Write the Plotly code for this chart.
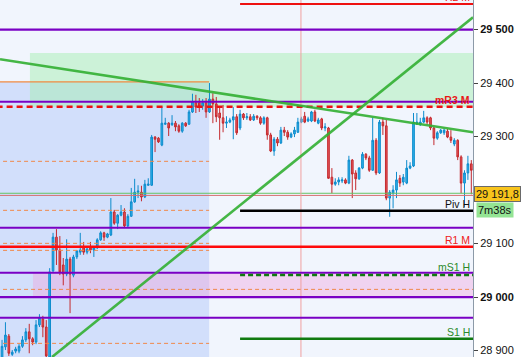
import plotly.graph_objects as go

# ---------------- data (price values) ----------------
open_ = [28882,28907,28927,28893,28899,28899,28908,28920,28935,28922,
         28916,28948,28959,28944,28888,29049,29112,29088,29060,29043,
         29071,29041,29075,29084,29092,29084,29092,29088,29092,29107,
         29120,29112,29116,29159,29138,29153,29159,29133,29151,29178,
         29196,29196,29187,29209,29209,29299,29297,29284,29323,29325,
         29322,29325,29320,29310,29325,29323,29346,29363,29363,29357,
         29363,29346,29370,29361,29344,29335,29325,29327,29331,29337,
         29316,29342,29335,29337,29331,29338,29335,29325,29335,29303,
         29273,29295,29288,29312,29308,29299,29305,29308,29327,29338,
         29329,29329,29346,29325,29333,29316,29316,29224,29211,29215,
         29217,29219,29213,29256,29232,29221,29241,29267,29260,29237,
         29293,29232,29327,29320,29185,29194,29200,29222,29215,29213,
         29241,29245,29323,29322,29327,29335,29335,29316,29297,29307,
         29307,29310,29299,29286,29293,29262,29213,29232,29249]
high = [28920,28953,28931,28901,28907,28912,28927,28942,28950,28925,
        28957,28968,28965,28957,29054,29120,29127,29114,29073,29108,
        29075,29079,29088,29120,29103,29095,29103,29093,29110,29123,
        29122,29120,29185,29163,29155,29172,29166,29155,29204,29221,
        29209,29208,29219,29222,29303,29301,29299,29355,29335,29327,
        29340,29329,29323,29327,29327,29350,29380,29378,29372,29370,
        29372,29400,29381,29374,29355,29359,29338,29335,29355,29342,
        29350,29344,29344,29342,29342,29340,29338,29338,29337,29307,
        29299,29299,29318,29318,29312,29308,29318,29335,29337,29346,
        29337,29348,29350,29335,29335,29325,29318,29241,29222,29224,
        29224,29222,29264,29258,29237,29243,29271,29269,29264,29335,
        29297,29331,29335,29331,29200,29209,29234,29228,29230,29256,
        29252,29344,29344,29335,29348,29338,29337,29318,29310,29314,
        29314,29314,29312,29297,29295,29265,29237,29264,29256]
low = [28873,28901,28890,28890,28895,28895,28905,28916,28895,28910,
       28912,28944,28925,28882,28882,29047,29060,29041,29022,29039,
       28970,29037,29071,29079,29079,29080,29082,29075,29090,29105,
       29105,29110,29114,29135,29127,29151,29129,29131,29150,29176,
       29185,29179,29185,29208,29208,29271,29288,29282,29322,29301,
       29320,29310,29307,29307,29318,29322,29344,29344,29346,29350,
       29335,29344,29325,29327,29294,29308,29316,29325,29295,29303,
       29312,29331,29331,29329,29329,29331,29322,29322,29294,29271,
       29264,29282,29286,29301,29294,29297,29299,29307,29325,29325,
       29327,29327,29327,29323,29312,29310,29221,29194,29208,29209,
       29213,29211,29211,29185,29200,29219,29239,29256,29234,29236,
       29228,29230,29303,29181,29150,29166,29185,29206,29209,29211,
       29239,29243,29322,29320,29325,29323,29312,29284,29294,29305,
       29303,29297,29288,29282,29256,29194,29168,29219,29192]
close = [28908,28929,28895,28897,28903,28908,28920,28935,28922,28916,
         28948,28961,28944,28890,29047,29112,29088,29047,29043,29071,
         29043,29075,29086,29088,29084,29090,29088,29092,29107,29120,
         29112,29118,29159,29138,29153,29159,29133,29151,29178,29196,
         29198,29187,29211,29211,29299,29295,29290,29325,29325,29316,
         29325,29318,29310,29325,29320,29346,29365,29355,29357,29363,
         29346,29370,29361,29337,29335,29325,29327,29331,29337,29307,
         29342,29335,29337,29331,29338,29335,29325,29335,29303,29273,
         29295,29288,29312,29308,29299,29305,29312,29327,29333,29327,
         29333,29346,29329,29331,29316,29318,29222,29211,29215,29219,
         29219,29213,29256,29230,29221,29241,29267,29260,29237,29293,
         29232,29327,29320,29185,29196,29200,29219,29213,29224,29241,
         29245,29327,29327,29327,29335,29327,29316,29297,29307,29312,
         29312,29299,29293,29293,29262,29213,29232,29249,29237]
idx = list(range(len(close)))

# horizontal levels
purple_levels = [29500, 29365, 29129.6, 29045.5, 29000, 28961.4]
level_R2M = 29547.7
level_mR3M = 29355.6
level_piv = 29161.4
level_R1M = 29094.1
level_mS1H = 29041.2
level_S1H = 28922.1
level_box_top = 29402
orange_dash_left = [29253.7, 29162.1, 29100.4, 29087.3, 28913.5]
orange_dash_full = 29014.4
bid_line = 29194
ask_line = 29190
last_price = 29191.8
timer_text = "7m38s"

# zones
green_zone = (8.2, 29355, 29456)
pink_zone = (9.1, 29000, 29045)
blue_zone_right = 60.9
vline_x = 87.9

# trend lines (index, price)
trend_down = [(-0.6, 29444.4), (138.5, 29307.9)]
trend_up = [(14.7, 28888), (138.5, 29523)]

tick_vals = [28900, 29000, 29100, 29191.8, 29300, 29400, 29500]
tick_text = ["28 900", "<b>29 000</b>", "29 100", "", "29 300", "29 400", "<b>29 500</b>"]

XMIN, XMAX = -0.6, 138.5
YMIN, YMAX = 28888.0, 29555.2

fig = go.Figure()
fig.add_trace(go.Candlestick(
    x=idx, open=open_, high=high, low=low, close=close,
    increasing=dict(line=dict(color="#0c8bcc", width=1), fillcolor="#2fb2ea"),
    decreasing=dict(line=dict(color="#c42a2e", width=1), fillcolor="#e6545a"),
    showlegend=False, hoverinfo="skip"))

shapes = []
# background zones
shapes.append(dict(type="rect", xref="x", yref="y", x0=XMIN - 1, x1=blue_zone_right,
                   y0=YMIN - 50, y1=level_box_top, fillcolor="#d2dffb", line_width=0, layer="below"))
shapes.append(dict(type="rect", xref="x", yref="y", x0=green_zone[0], x1=XMAX + 5,
                   y0=green_zone[1], y1=green_zone[2], fillcolor="rgba(160,240,170,0.45)",
                   line_width=0, layer="below"))
shapes.append(dict(type="rect", xref="x", yref="y", x0=pink_zone[0], x1=XMAX + 5,
                   y0=pink_zone[1], y1=pink_zone[2], fillcolor="rgba(240,160,220,0.40)",
                   line_width=0, layer="below"))
# orange top line of blue zone
shapes.append(dict(type="line", xref="x", yref="y", x0=XMIN - 1, x1=blue_zone_right,
                   y0=level_box_top, y1=level_box_top, line=dict(color="#f08a40", width=1.3)))
for v in orange_dash_left:
    shapes.append(dict(type="line", xref="x", yref="y", x0=0.3, x1=blue_zone_right,
                       y0=v, y1=v, line=dict(color="#f0884a", width=1, dash="4px,3px")))
shapes.append(dict(type="line", xref="x", yref="y", x0=0.3, x1=XMAX + 5,
                   y0=orange_dash_full, y1=orange_dash_full,
                   line=dict(color="#f0884a", width=1, dash="4px,3px")))
# bid / ask thin lines
shapes.append(dict(type="line", xref="x", yref="y", x0=XMIN - 1, x1=XMAX + 5, y0=bid_line, y1=bid_line,
                   line=dict(color="#66c266", width=1)))
shapes.append(dict(type="line", xref="x", yref="y", x0=XMIN - 1, x1=XMAX + 5, y0=ask_line, y1=ask_line,
                   line=dict(color="#d87070", width=1)))
# vertical pink line
shapes.append(dict(type="line", xref="x", yref="paper", x0=vline_x, x1=vline_x, y0=0, y1=1,
                   line=dict(color="#f0a0a0", width=1)))
# purple levels
for v in purple_levels:
    shapes.append(dict(type="line", xref="x", yref="y", x0=XMIN - 1, x1=XMAX + 5, y0=v, y1=v,
                       line=dict(color="#7a00c4", width=2.2)))
# pivots
shapes.append(dict(type="line", xref="x", yref="y", x0=70, x1=XMAX + 5, y0=level_R2M, y1=level_R2M,
                   line=dict(color="#ee1010", width=2.2)))
shapes.append(dict(type="line", xref="x", yref="y", x0=XMIN - 1, x1=XMAX + 5, y0=level_mR3M, y1=level_mR3M,
                   line=dict(color="#ee1010", width=2.5, dash="6px,4px")))
shapes.append(dict(type="line", xref="x", yref="y", x0=70, x1=XMAX + 5, y0=level_piv, y1=level_piv,
                   line=dict(color="#000000", width=2.5)))
shapes.append(dict(type="line", xref="x", yref="y", x0=XMIN - 1, x1=XMAX + 5, y0=level_R1M, y1=level_R1M,
                   line=dict(color="#ff0a0a", width=2.5)))
shapes.append(dict(type="line", xref="x", yref="y", x0=70, x1=XMAX + 5, y0=level_mS1H, y1=level_mS1H,
                   line=dict(color="#107a10", width=2.5, dash="5px,3px")))
shapes.append(dict(type="line", xref="x", yref="y", x0=70, x1=XMAX + 5, y0=level_S1H, y1=level_S1H,
                   line=dict(color="#107a10", width=2.5)))
# trend lines
for tl in (trend_down, trend_up):
    shapes.append(dict(type="line", xref="x", yref="y", x0=tl[0][0], y0=tl[0][1], x1=tl[1][0], y1=tl[1][1],
                       line=dict(color="rgba(50,175,50,0.9)", width=2.6)))

annotations = []
def lab(text, v, color, bold=False):
    t = "<b>" + text + "</b>" if bold else text
    annotations.append(dict(text=t, xref="paper", yref="y", x=1.0, y=v, xanchor="right",
                            yanchor="bottom", showarrow=False, yshift=-1, xshift=-1,
                            font=dict(family="Liberation Sans, Arial", size=10.5, color=color)))
lab("R2 M", level_R2M, "#ee1010")
lab("mR3 M", level_mR3M, "#e81818", bold=True)
lab("Piv H", level_piv, "#111111")
lab("R1 M", level_R1M, "#ee2020")
lab("mS1 H", level_mS1H + 2.5, "#2a8a2a")
lab("S1 H", level_S1H, "#2a8a2a")

annotations.append(dict(text="29 191,8", xref="paper", yref="y", x=1, xshift=1, y=last_price,
                        xanchor="left", yanchor="middle", showarrow=False,
                        bgcolor="#f8c41c", bordercolor="#6a6a6a", borderwidth=1, borderpad=1,
                        font=dict(family="Liberation Sans, Arial", size=11, color="#111111")))
annotations.append(dict(text=timer_text, xref="paper", yref="y", x=1, xshift=3, y=last_price,
                        yshift=-16, xanchor="left", yanchor="middle", showarrow=False,
                        bgcolor="#94e494", borderpad=1,
                        font=dict(family="Liberation Sans, Arial", size=11, color="#111111")))

fig.update_layout(
    width=524, height=357,
    margin=dict(l=0, r=51, t=0, b=0),
    paper_bgcolor="#ffffff", plot_bgcolor="#f1f5fd",
    shapes=shapes, annotations=annotations, showlegend=False,
    xaxis=dict(range=[XMIN, XMAX], visible=False, rangeslider=dict(visible=False), fixedrange=True),
    yaxis=dict(range=[YMIN, YMAX], side="right", showgrid=False, zeroline=False,
               tickvals=tick_vals, ticktext=tick_text, ticks="outside", ticklen=4,
               tickcolor="#444444", showline=True, linecolor="#8c9aa8", linewidth=1,
               tickfont=dict(family="Liberation Sans, Arial", size=11, color="#111111")),
)
fig.write_html("out.html", config={"displayModeBar": False},
               post_script="document.body.style.margin='0';document.body.style.overflow='hidden';")
